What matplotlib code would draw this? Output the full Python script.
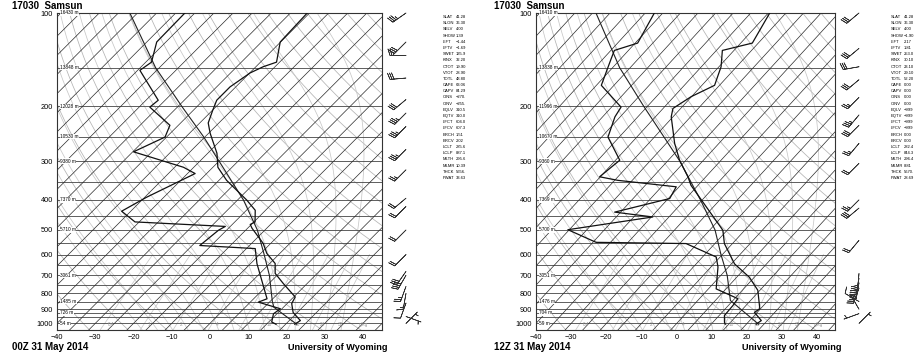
import numpy as np
import matplotlib.pyplot as plt

plt.rcParams['font.family'] = ['Liberation Sans', 'DejaVu Sans']

W, H = 917, 360
SKEW = 35.2        # skew of the isotherms, deg C per unit of ln(p)
P_REF = 1000.0
P_BOT, P_TOP = 1050.0, 100.0

station = "17030  Samsun"
times = ["00Z 31 May 2014", "12Z 31 May 2014"]

# 00Z sounding (hPa, deg C)
t_p_00 = [1006, 979, 922, 863, 822, 743, 690, 641, 595, 552, 494, 480, 471, 432, 401,
          346, 314, 283, 244, 226, 206, 191, 173, 156, 149, 144, 124, 100]
t_00 = [22.4, 22.9, 18.9, 16.2, 15.4, 8.7, 4.0, 1.4, -3.4, -7.0, -13.8, -15.3, -14.7, -17.7, -22.5,
        -33.0, -38.7, -42.6, -49.6, -52.8, -54.9, -56.5, -56.5, -54.9, -53.1, -50.8, -55.1, -55.6]
td_p_00 = [1006, 990, 931, 897, 854, 833, 642, 574, 561, 501, 487, 471, 435, 392,
           329, 314, 280, 251, 230, 201, 191, 153, 144, 124, 100]
td_00 = [17.5, 15.8, 14.1, 14.6, 7.1, 8.5, -3.3, -7.7, -23.0, -22.1, -21.3, -46.1, -52.4, -49.5,
         -43.0, -47.7, -64.8, -60.4, -62.2, -72.2, -71.8, -84.4, -83.5, -87.4, -87.6]
parcel_p_00 = [1006, 887, 850, 700, 600, 500, 400, 300, 250, 200, 150, 100]
parcel_00 = [22.9, 12.5, 10.6, 3.0, -3.8, -12.0, -23.5, -40.0, -50.5, -64.0, -81.0, -102.0]

# 12Z sounding
t_p_12 = [1006, 979, 921, 897, 782, 710, 643, 553, 501, 359, 337, 298, 263, 216, 203,
          186, 171, 149, 132, 125, 100]
t_12 = [22.8, 23.3, 19.2, 19.8, 14.4, 8.6, 0.9, -7.3, -11.2, -32.0, -35.1, -41.8, -47.6, -55.5, -57.2,
        -55.1, -51.4, -54.4, -58.3, -51.7, -54.6]
td_p_12 = [1006, 992, 943, 875, 832, 774, 658, 611, 553, 548, 499, 454, 438, 396, 363,
           346, 337, 298, 251, 216, 201, 171, 140, 132, 125, 100]
td_12 = [14.0, 13.3, 11.5, 11.3, 10.9, 2.2, -3.0, -6.1, -18.2, -44.1, -55.4, -34.6, -46.7, -34.6, -35.8,
         -54.1, -60.2, -58.8, -68.2, -71.5, -72.3, -83.6, -87.8, -89.0, -84.3, -87.4]
parcel_p_12 = [1006, 844, 700, 600, 500, 400, 300, 250, 200, 150, 100]
parcel_12 = [23.5, 9.3, 1.8, -5.4, -13.5, -25.5, -41.5, -52.5, -66.0, -83.0, -104.0]

# winds: pressure, direction (deg), speed (kt)
wind_p_00 = [100, 124, 137, 162, 190, 210, 232, 275, 320, 395, 420, 500, 600, 680, 700, 760, 800, 860, 950, 1000]
wind_dir_00 = [235, 225, 270, 265, 230, 225, 225, 225, 225, 230, 225, 225, 225, 215, 210, 200, 190, 200, 110, 45]
wind_spd_00 = [35, 30, 25, 30, 30, 35, 35, 35, 25, 20, 20, 20, 20, 30, 40, 25, 15, 10, 5, 5]
wind_p_12 = [100, 130, 149, 164, 187, 213, 230, 263, 305, 400, 425, 540, 690, 715, 740, 770, 850, 900, 930, 1000]
wind_dir_12 = [230, 230, 260, 230, 225, 220, 225, 220, 225, 225, 230, 220, 185, 190, 190, 200, 300, 330, 250, 45]
wind_spd_12 = [30, 30, 30, 30, 25, 35, 30, 25, 20, 25, 30, 20, 30, 30, 30, 25, 10, 5, 5, 5]

# standard level heights (m)
hgt_p = [100, 150, 200, 250, 300, 400, 500, 700, 850, 925, 1000]
hgt_00 = [16430, 13848, 12028, 10530, 9380, 7370, 5710, 3061, 1485, 726, 54]
hgt_12 = [16410, 13838, 11996, 10670, 9360, 7369, 5700, 3051, 1476, 704, 59]

# stability indices
idx_names = ["SLAT", "SLON", "SELV", "SHOW", "LIFT", "LFTV", "SWET", "KINX", "CTOT", "VTOT",
             "TOTL", "CAPE", "CAPV", "CINS", "CINV", "EQLV", "EQTV", "LFCT", "LFCV", "BRCH",
             "BRCV", "LCLT", "LCLP", "MLTH", "MLMR", "THCK", "PWAT"]
idx_00 = ["41.28", "36.30", "4.00", "1.39", "\u22121.44", "\u22121.69", "135.9", "32.20", "19.90", "28.90",
          "48.80", "63.06", "84.29", "\u2212270.", "\u2212255.", "310.5", "310.0", "604.0", "607.3", "1.51",
          "2.02", "285.6", "887.1", "295.6", "10.39", "5656.", "33.63"]
idx_12 = ["41.28", "36.30", "4.00", "\u22121.90", "2.17", "1.81", "253.0", "30.10", "23.10", "29.10",
          "52.20", "0.00", "0.00", "0.00", "0.00", "\u2212999", "\u2212999", "\u2212999", "\u2212999", "0.00",
          "0.00", "282.4", "844.3", "296.4", "8.81", "5670.", "28.69"]

mix_ratios = [0.4, 1, 2, 4, 7, 10, 16, 24, 32]
mix_labels = ["0.4", "1", "2", "4", "7", "10", "16", "24", "32"]

fig = plt.figure(figsize=(W / 100, H / 100), dpi=100)


def px_axes(x0, y0, x1, y1):
    return fig.add_axes([x0 / W, 1 - y1 / H, (x1 - x0) / W, (y1 - y0) / H])


def px_text(x, y, s, **kw):
    fig.text(x / W, 1 - y / H, s, **kw)


def skx(t, p):
    return np.asarray(t, float) + SKEW * np.log(P_REF / np.asarray(p, float))


def sat_vp(tc):
    return 6.112 * np.exp(17.67 * tc / (tc + 243.5))


def moist_path(t_start, pp):
    # pseudo-adiabat integrated upward from the bottom of the chart
    Rd, Cp, Lv, eps = 287.04, 1005.7, 2.501e6, 0.622
    T = t_start + 273.15
    out = [T]
    for i in range(1, len(pp)):
        p = pp[i - 1]
        es = sat_vp(T - 273.15)
        rs = eps * es / (p - es)
        dTdp = (Rd * T + Lv * rs) / (p * (Cp + Lv ** 2 * rs * eps / (Rd * T ** 2)))
        T = T + dTdp * (pp[i] - p)
        out.append(T)
    return np.array(out) - 273.15


def skewt(ax, t_p, t, td_p, td, pa_p, pa, hgts):
    pp = np.linspace(P_BOT, P_TOP, 400)
    # isobars
    for p in list(range(100, 1001, 50)) + [925]:
        ax.plot([-40, 45], [p, p], color='#444444', lw=0.6, zorder=2)
    # isotherms
    for tc in range(-160, 50, 5):
        ax.plot(skx(tc, pp), pp, color='#2a2a2a', lw=0.5, zorder=2)
    # dry adiabats
    for th in range(230, 500, 10):
        tt = th * (pp / 1000.0) ** 0.2857 - 273.15
        ax.plot(skx(tt, pp), pp, color='#b4b4b4', lw=0.55, zorder=1)
    # moist adiabats
    for t0 in range(-16, 40, 4):
        ax.plot(skx(moist_path(t0, pp), pp), pp, color='#c8c8c8', lw=0.55, zorder=1)
    # mixing ratio lines
    pm = np.linspace(P_BOT, 600, 50)
    for w, lab in zip(mix_ratios, mix_labels):
        e = w * pm / (622.0 + w)
        a = np.log(e / 6.112)
        tdw = 243.5 * a / (17.67 - a)
        ax.plot(skx(tdw, pm), pm, color='#c8c8c8', lw=0.55, zorder=1)
        ax.text(skx(tdw[2], pm[2]) + 1.5, 1005, lab, fontsize=3.4, color='#999999',
                ha='left', va='center', zorder=3)
    ax.text(39.0, 1005, "g/kg", fontsize=3.4, color='#999999', ha='left', va='center', zorder=3)
    # sounding
    ax.plot(skx(pa, pa_p), pa_p, color='#222222', lw=0.8, zorder=4)
    ax.plot(skx(t, t_p), t_p, color='#111111', lw=0.9, zorder=5)
    ax.plot(skx(td, td_p), td_p, color='#111111', lw=0.9, zorder=5)
    # heights of the standard levels
    for p, z in zip(hgt_p, hgts):
        ax.text(-39.2, p, "%d m" % z, fontsize=3.4, ha='left', va='center', zorder=6,
                bbox=dict(boxstyle='square,pad=0.05', fc='white', ec='none'))
    ax.set_yscale('log')
    ax.set_ylim(P_BOT, P_TOP)
    ax.set_xlim(-40, 45)
    ax.set_yticks(range(100, 1001, 100))
    ax.set_yticklabels([str(v) for v in range(100, 1001, 100)])
    ax.yaxis.set_minor_locator(plt.NullLocator())
    ax.set_xticks(range(-40, 41, 10))
    ax.set_xticklabels([str(v).replace('-', '\u2212') for v in range(-40, 41, 10)])
    ax.tick_params(length=0, labelsize=5.3, pad=3)
    for s in ax.spines.values():
        s.set_linewidth(0.8)
        s.set_color('#333333')


def winds(ax, wp, wd, ws):
    d = np.radians(wd)
    u = -np.asarray(ws) * np.sin(d)
    v = -np.asarray(ws) * np.cos(d)
    ax.barbs(np.zeros(len(wp)), wp, u, v, length=4.8, linewidth=0.5, color='#333333',
             sizes=dict(emptybarb=0.0), clip_on=False)
    ax.set_yscale('log')
    ax.set_ylim(P_BOT, P_TOP)
    ax.set_xlim(-1, 1)
    ax.axis('off')


panels = [
    dict(box=(57, 382), barb=406, idx=(443, 456), title_x=12,
         t=(t_p_00, t_00), td=(td_p_00, td_00), pa=(parcel_p_00, parcel_00),
         hgt=hgt_00, wind=(wind_p_00, wind_dir_00, wind_spd_00), vals=idx_00),
    dict(box=(536, 835), barb=859, idx=(891, 904), title_x=494,
         t=(t_p_12, t_12), td=(td_p_12, td_12), pa=(parcel_p_12, parcel_12),
         hgt=hgt_12, wind=(wind_p_12, wind_dir_12, wind_spd_12), vals=idx_12),
]

for k, pn in enumerate(panels):
    x0, x1 = pn['box']
    ax = px_axes(x0, 13, x1, 330)
    skewt(ax, *pn['t'], *pn['td'], *pn['pa'], pn['hgt'])
    bx = px_axes(pn['barb'] - 25, 13, pn['barb'] + 25, 330)
    winds(bx, *pn['wind'])
    px_text(pn['title_x'], 6, station, fontsize=7, fontweight='bold', va='center')
    px_text(pn['title_x'], 347, times[k], fontsize=7, fontweight='bold', va='center')
    px_text(x1 + 6, 347, "University of Wyoming", fontsize=6.6, fontweight='bold',
            va='center', ha='right')
    lx, vx = pn['idx']
    for i, (nm, val) in enumerate(zip(idx_names, pn['vals'])):
        y = 17 + i * 6.19
        px_text(lx, y, nm, fontsize=3.0, va='center')
        px_text(vx, y, val, fontsize=3.0, va='center')

fig.savefig("out.png", dpi=100)
